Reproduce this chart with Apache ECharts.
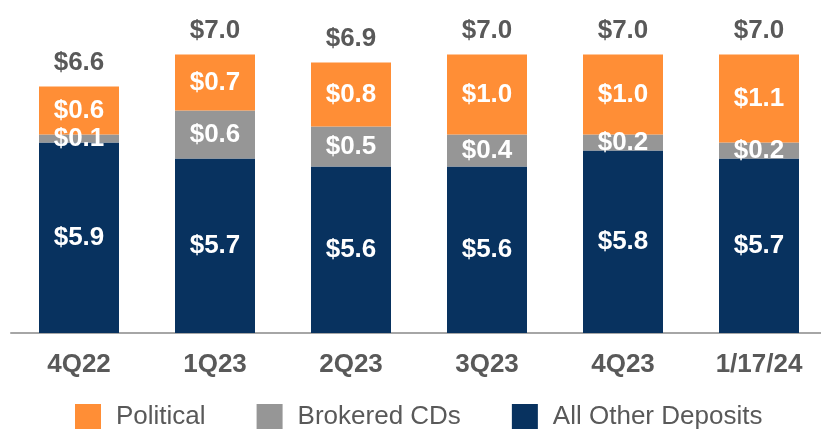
<!DOCTYPE html>
<html>
<head>
<meta charset="utf-8">
<script src="https://cdn.jsdelivr.net/npm/echarts@6/dist/echarts.min.js"></script>
<style>
  html, body { margin: 0; padding: 0; background: #fff; }
  #chart { width: 821px; height: 429px; }
</style>
</head>
<body>
<div id="chart"></div>
<script>
// deposits in $ billions
const categories = ['4Q22', '1Q23', '2Q23', '3Q23', '4Q23', '1/17/24'];
const otherDeposits = [5.9, 5.7, 5.6, 5.6, 5.8, 5.7];
const brokeredCDs = [0.1, 0.6, 0.5, 0.4, 0.2, 0.2];
const political = [0.6, 0.7, 0.8, 1.0, 1.0, 1.1];
const totals = [6.6, 7.0, 6.9, 7.0, 7.0, 7.0];

const font = 'Liberation Sans, Arial, sans-serif';
const money = v => '$' + v.toFixed(1);

const segLabel = {
    show: true,
    position: 'inside',
    color: '#fff',
    fontFamily: font,
    fontWeight: 'bold',
    fontSize: 26,
    formatter: p => money(p.value)
};

function seg(name, data, color) {
    return {
        name: name,
        type: 'bar',
        stack: 'total',
        barWidth: 80,
        data: data,
        itemStyle: { color: color },
        label: segLabel
    };
}

const chart = echarts.init(document.getElementById('chart'));
chart.setOption({
    animation: false,
    grid: { left: 11, width: 816, top: 13, bottom: 96, outerBoundsMode: 'none' },
    legend: {
        data: ['Political', 'Brokered CDs', 'All Other Deposits'],
        left: 75,
        top: 404,
        padding: 0,
        icon: 'rect',
        itemWidth: 26,
        itemHeight: 26,
        itemGap: 51,
        textStyle: {
            color: '#595959',
            fontFamily: font,
            fontSize: 26,
            padding: [0, 0, 0, 10]
        }
    },
    xAxis: {
        type: 'category',
        data: categories,
        axisLine: { lineStyle: { color: '#a6a6a6', width: 2 } },
        axisTick: { show: false },
        axisLabel: {
            color: '#595959',
            fontFamily: font,
            fontWeight: 'bold',
            fontSize: 26,
            margin: 19
        }
    },
    yAxis: {
        type: 'value',
        min: 3.52,
        max: 7.52,
        show: false,
        splitLine: { show: false }
    },
    series: [
        seg('All Other Deposits', otherDeposits, '#08325f'),
        seg('Brokered CDs', brokeredCDs, '#969696'),
        seg('Political', political, '#ff8e36'),
        {
            name: 'Total',
            type: 'bar',
            stack: 'total',
            barWidth: 80,
            data: totals.map(() => 0),
            label: {
                show: true,
                position: 'top',
                distance: 11,
                color: '#595959',
                fontFamily: font,
                fontWeight: 'bold',
                fontSize: 26,
                formatter: p => money(totals[p.dataIndex])
            }
        }
    ]
});
</script>
</body>
</html>
